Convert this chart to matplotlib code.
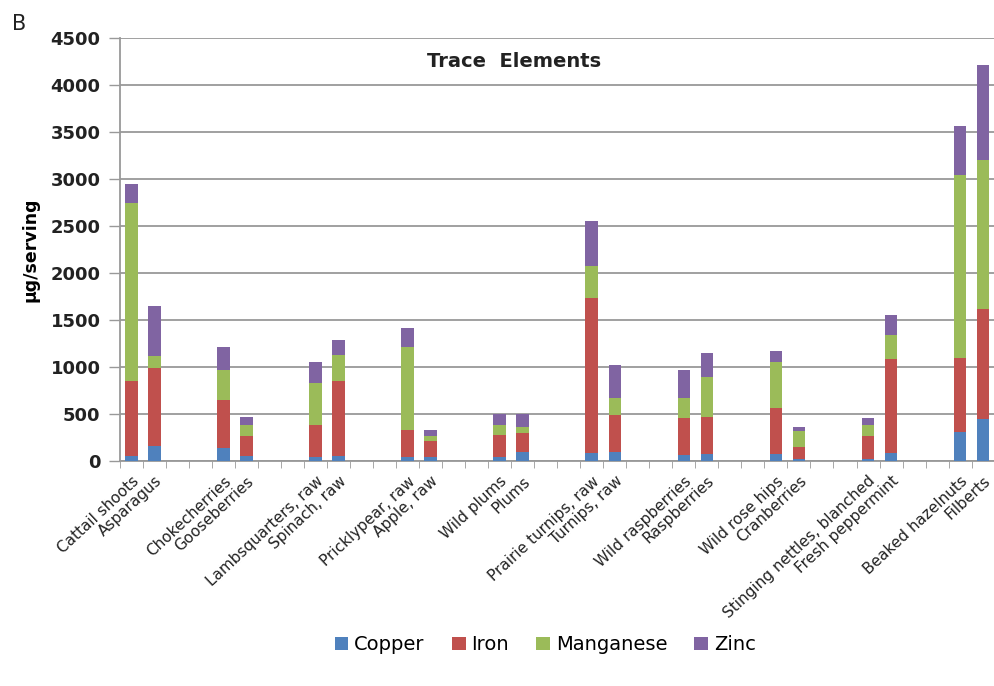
import numpy as np
import matplotlib.pyplot as plt

foods = ["Cattail shoots", "Asparagus", "Chokecherries", "Gooseberries",
         "Lambsquarters, raw", "Spinach, raw", "Pricklypear, raw", "Apple, raw",
         "Wild plums", "Plums", "Prairie turnips, raw", "Turnips, raw",
         "Wild raspberries", "Raspberries", "Wild rose hips", "Cranberries",
         "Stinging nettles, blanched", "Fresh peppermint",
         "Beaked hazelnuts", "Filberts"]

copper = [50, 160, 140, 50, 40, 50, 45, 40, 40, 100,
          80, 100, 60, 70, 70, 25, 25, 80, 310, 450]
iron = [800, 825, 510, 220, 340, 800, 285, 175, 240, 195,
        1650, 390, 400, 400, 495, 125, 245, 1000, 790, 1170]
manganese = [1890, 130, 320, 110, 450, 280, 885, 50, 105, 70,
             340, 180, 215, 425, 485, 170, 115, 260, 1940, 1580]
zinc = [210, 530, 240, 90, 220, 155, 200, 65, 110, 130,
        485, 355, 290, 250, 120, 45, 70, 215, 525, 1010]

series = [("Copper", copper, "#4F81BD"), ("Iron", iron, "#C0504D"),
          ("Manganese", manganese, "#9BBB59"), ("Zinc", zinc, "#8064A2")]

# pairs of foods separated by two empty category slots
pos = []
for i in range(len(foods)):
    pos.append((i // 2) * 4 + (i % 2))
pos = np.array(pos, dtype=float)
n_slots = 38

fig = plt.figure(figsize=(9.95, 6.86), dpi=100)
ax = fig.add_axes([0.1206, 0.328, 0.879, 0.6166])

bottom = np.zeros(len(foods))
for name, vals, col in series:
    vals = np.array(vals, dtype=float)
    ax.bar(pos, vals, width=0.55, bottom=bottom, color=col, label=name, zorder=3)
    bottom += vals

ax.set_xlim(-0.5, n_slots - 0.5)
ax.set_ylim(0, 4500)
ax.set_yticks(np.arange(0, 4501, 500))
ax.yaxis.grid(True, color="#999999", lw=1.3, zorder=0)
ax.tick_params(axis="y", length=8, width=1, color="#999999", pad=6)
for lab in ax.get_yticklabels():
    lab.set_fontweight("bold")
    lab.set_fontsize(13)
    lab.set_color("#222222")

ax.set_xticks(pos)
ax.set_xticklabels(foods, rotation=43, ha="right", rotation_mode="anchor",
                   fontsize=11, color="#222222")
ax.tick_params(axis="x", which="major", length=0, pad=9)
ax.set_xticks(np.arange(-0.5, n_slots, 1.0), minor=True)
ax.tick_params(axis="x", which="minor", length=5, color="#999999", direction="out")

for s in ["top", "right"]:
    ax.spines[s].set_visible(False)
ax.spines["left"].set_color("#999999")
ax.spines["left"].set_linewidth(1.3)
ax.spines["bottom"].set_color("#999999")
ax.spines["bottom"].set_linewidth(1.3)

ax.text(0.45, 0.945, "Trace  Elements", transform=ax.transAxes, ha="center",
        va="center", fontsize=14, fontweight="bold", color="#222222")
ax.set_ylabel("µg/serving", fontsize=12.5, fontweight="bold", labelpad=8)
fig.text(0.012, 0.965, "B", fontsize=15, color="#222222", va="center")

leg = fig.legend(loc="center", bbox_to_anchor=(0.548, 0.06), ncol=4, frameon=False,
                 fontsize=14, handlelength=0.7, handleheight=0.7,
                 handletextpad=0.3, columnspacing=1.4)

fig.savefig("out.png", dpi=100)
